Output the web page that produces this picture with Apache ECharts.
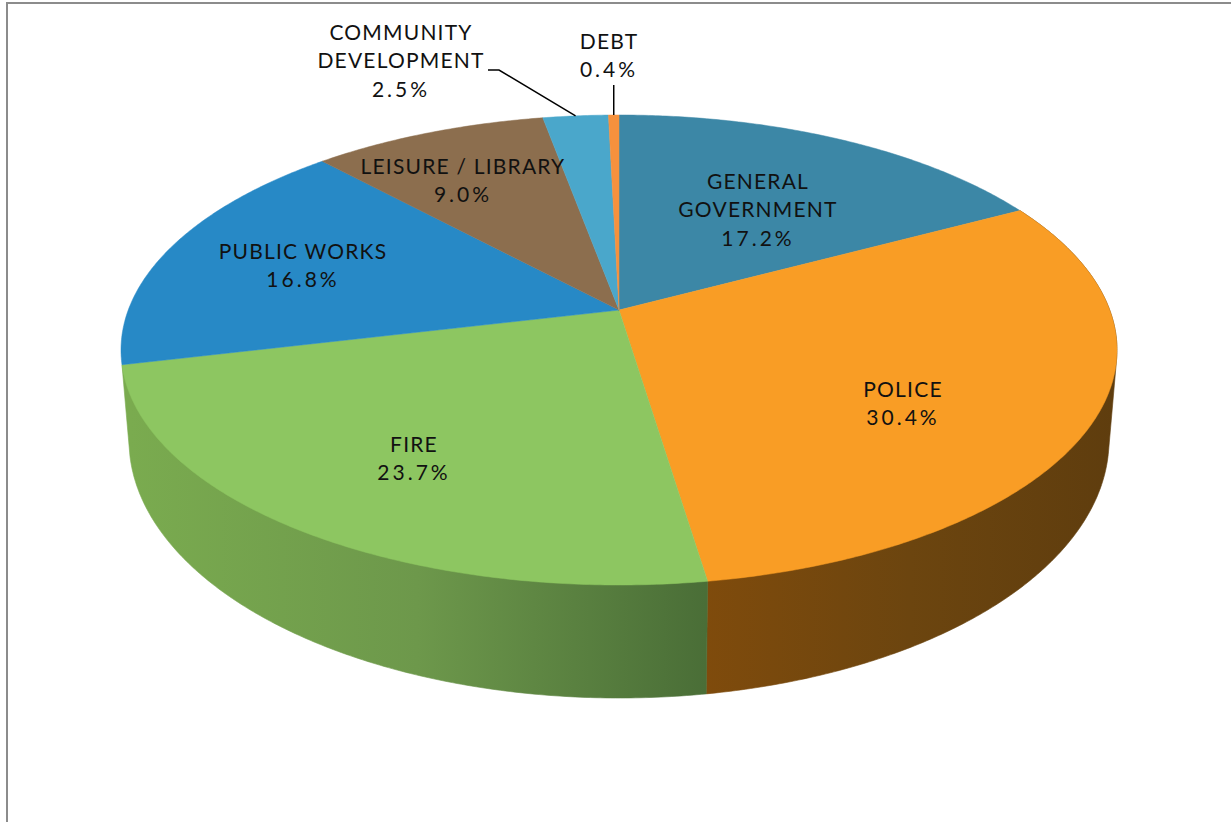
<!DOCTYPE html>
<html>
<head>
<meta charset="utf-8">
<title>Expenditures by function</title>
<style>
  html, body { margin: 0; padding: 0; background: #fff; }
  #chart { width: 1231px; height: 822px; }
  #chart text { letter-spacing: 1.2px; }
</style>
<script src="https://cdn.jsdelivr.net/npm/echarts@6/dist/echarts.min.js"></script>
</head>
<body>
<div id="chart"></div>
<script>
// Budget shares, clockwise from twelve o'clock
const categories = ['GENERAL\nGOVERNMENT', 'POLICE', 'FIRE', 'PUBLIC WORKS', 'LEISURE / LIBRARY', 'COMMUNITY\nDEVELOPMENT', 'DEBT'];
const shares = [17.2, 30.4, 23.7, 16.8, 9.0, 2.5, 0.4];

// Presentation only
const faceColors = ['#3c87a6', '#f99d25', '#8dc661', '#2789c6', '#8c6e4e', '#4aa7cb', '#f6913d'];
const labelCenters = [[758, 208.5], [903, 402.5], [414, 457.5], [303, 264.5], [463, 179.5], [401, 59.5], [609, 54.5]];
const wallGradients = {
  1: { from: 705, to: 1115, stops: ['#7f4b0c', '#6c450f', '#5f3d0e'] },
  2: { from: 130, to: 705, stops: ['#7aab4f', '#6d984b', '#4a6e37'] }
};
const topEllipse = { cx: 619, cy: 350, rx: 498, ry: 235 };
const bottomEllipse = { cx: 619, cy: 440, rx: 490, ry: 258 };
const tilt = 0.17;
const font = '21px Lato, sans-serif';
const labelLineHeight = 28.5;

const total = shares.reduce((a, b) => a + b, 0);
const startFraction = i => shares.slice(0, i).reduce((a, b) => a + b, 0) / total;

// Perspective view of a disc: the circle stays an ellipse, its centre shifts toward the far edge
function rimPoint(e, fraction) {
  const theta = fraction * 2 * Math.PI;
  const u = Math.sin(theta), v = -Math.cos(theta);
  const k = 1 - tilt * v;
  return [e.cx + e.rx * u * Math.sqrt(1 - tilt * tilt) / k, e.cy + e.ry * (v - tilt) / k];
}
function arc(e, a, b) {
  const steps = Math.max(2, Math.ceil((b - a) * 720));
  const pts = [];
  for (let s = 0; s <= steps; s++) pts.push(rimPoint(e, a + (b - a) * s / steps));
  return pts;
}
function hull(points) {
  const p = points.slice().sort((a, b) => a[0] - b[0] || a[1] - b[1]);
  const cross = (o, a, b) => (a[0] - o[0]) * (b[1] - o[1]) - (a[1] - o[1]) * (b[0] - o[0]);
  const half = list => {
    const out = [];
    for (const q of list) {
      while (out.length > 1 && cross(out[out.length - 2], out[out.length - 1], q) <= 0) out.pop();
      out.push(q);
    }
    out.pop();
    return out;
  };
  return half(p).concat(half(p.reverse()));
}

// Near-side rim walls, below every face
function renderWall(params) {
  const i = params.dataIndex;
  const spec = wallGradients[i];
  if (!spec) return { type: 'group', children: [] };
  const a = startFraction(i), b = a + shares[i] / total;
  const stops = spec.stops.map((c, n) => ({ offset: n / (spec.stops.length - 1), color: c }));
  const fill = new echarts.graphic.LinearGradient(spec.from, 0, spec.to, 0, stops, true);
  return {
    type: 'polygon',
    shape: { points: hull(arc(topEllipse, a, b).concat(arc(bottomEllipse, a, b))) },
    style: { fill, stroke: fill, lineWidth: 0.6 }
  };
}

function renderFace(params) {
  const i = params.dataIndex;
  const a = startFraction(i), b = a + shares[i] / total;
  const apex = [topEllipse.cx, topEllipse.cy - tilt * topEllipse.ry];
  return {
    type: 'polygon',
    shape: { points: [apex].concat(arc(topEllipse, a, b)) },
    style: { fill: faceColors[i], stroke: faceColors[i], lineWidth: 0.5 }
  };
}

function renderLabel(params, api) {
  const i = params.dataIndex;
  const [x, y] = labelCenters[i];
  const children = [{
    type: 'text',
    style: {
      x, y,
      text: categories[i] + '\n' + api.value(0).toFixed(1) + '%',
      font, fill: '#111', align: 'center', verticalAlign: 'middle', lineHeight: labelLineHeight
    }
  }];
  // The two thin slices carry leader lines out to the rim
  const mid = rimPoint(topEllipse, startFraction(i) + shares[i] / total / 2);
  if (i === 5) {
    children.push({
      type: 'polyline',
      shape: { points: [[488, 70], [499, 70], mid] },
      style: { fill: 'none', stroke: '#000', lineWidth: 1.5 }
    });
  } else if (i === 6) {
    children.push({
      type: 'line',
      shape: { x1: mid[0], y1: 85, x2: mid[0], y2: mid[1] },
      style: { stroke: '#000', lineWidth: 1.5 }
    });
  }
  return { type: 'group', children };
}

const chart = echarts.init(document.getElementById('chart'), null, { renderer: 'svg' });
chart.setOption({
  animation: false,
  backgroundColor: '#fff',
  graphic: [
    { type: 'line', z: 0, shape: { x1: 6, y1: 3, x2: 1231, y2: 3 }, style: { stroke: '#8c8c8c', lineWidth: 2 } },
    { type: 'line', z: 0, shape: { x1: 7, y1: 2, x2: 7, y2: 822 }, style: { stroke: '#8c8c8c', lineWidth: 2 } }
  ],
  series: [
    { type: 'custom', name: 'walls', coordinateSystem: 'none', z: 1, data: shares, renderItem: renderWall, silent: true },
    { type: 'custom', name: 'faces', coordinateSystem: 'none', z: 2, data: shares, renderItem: renderFace, silent: true },
    { type: 'custom', name: 'labels', coordinateSystem: 'none', z: 3, data: shares, renderItem: renderLabel, silent: true }
  ]
});

// Percentages are set with wider tracking than the names
function trackPercentages() {
  document.querySelectorAll('#chart text').forEach(t => {
    if (t.textContent.trim().endsWith('%')) t.style.letterSpacing = '3px';
  });
}
trackPercentages();
chart.on('finished', trackPercentages);
</script>
</body>
</html>
